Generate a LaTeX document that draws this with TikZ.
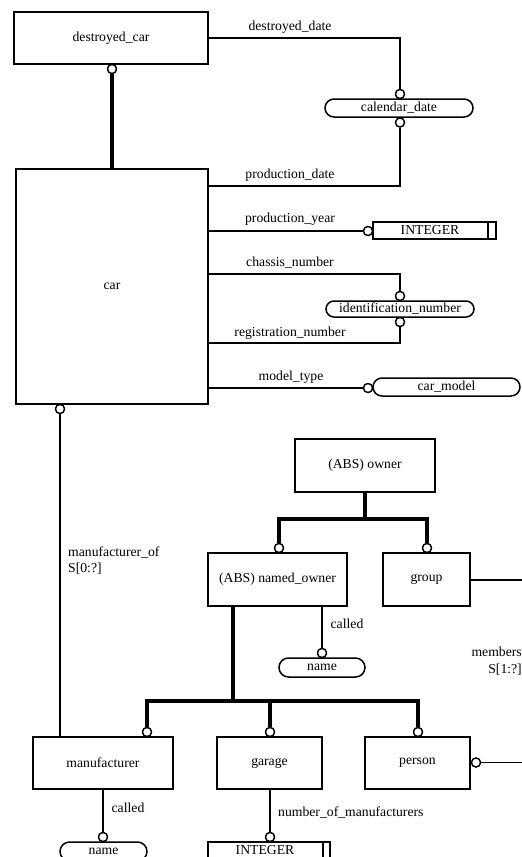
\documentclass[tikz,border=0pt]{standalone}
\usepackage{fontspec}
\setmainfont{Liberation Serif}
\usetikzlibrary{shapes.misc}
\begin{document}
\begin{tikzpicture}[x=1pt,y=-1pt,
  font=\fontsize{13.7}{16.5}\selectfont,
  entity/.style={draw,line width=1.5pt,rectangle,inner sep=0pt},
  deftype/.style={draw,line width=1.5pt,rounded rectangle,inner sep=0pt,minimum height=18pt},
  simple/.style={draw,line width=1.5pt,rectangle,inner sep=0pt,minimum height=17pt},
  circ/.style={draw,circle,fill=white,line width=1.3pt,minimum size=9pt,inner sep=0pt},
  rel/.style={line width=1.3pt},
  sub/.style={line width=4.5pt},
  lbl/.style={inner sep=0pt}]
\useasboundingbox (0,0) rectangle (522,857);

% entities
\node[entity,minimum width=194pt,minimum height=52pt] (dcar) at (111,38) {destroyed\_car};
\node[entity,minimum width=192pt,minimum height=235pt] (car) at (112,286.5) {car};
\node[entity,minimum width=140pt,minimum height=53pt] (owner) at (365,465.5) {(ABS) owner};
\node[entity,minimum width=139pt,minimum height=53pt] (named) at (277.5,579.5) {(ABS) named\_owner};
\node[entity,minimum width=87pt,minimum height=53pt] (group) at (426.5,579.5) {group};
\node[entity,minimum width=140pt,minimum height=52pt] (manuf) at (103,763) {manufacturer};
\node[entity,minimum width=105pt,minimum height=52pt] (garage) at (269.5,763) {garage};
\node[entity,minimum width=105pt,minimum height=52pt] (person) at (417.5,763) {person};

% defined types
\node[deftype,minimum width=148pt] (caldate) at (399,108) {calendar\_date};
\node[deftype,minimum width=148pt,minimum height=16pt] (idnum) at (400,309) {identification\_number};
\node[deftype,minimum width=147pt] (carmodel) at (446.5,387) {car\_model};
\node[deftype,minimum width=86pt,minimum height=19pt] (nameA) at (322,667.5) {name};
\node[deftype,minimum width=87pt,minimum height=19pt] (nameB) at (103.5,851.5) {name};

% simple types
\node[simple,minimum width=123pt] (intA) at (434.5,230.5) {INTEGER\kern9pt};
\draw[line width=1.5pt] ([xshift=-9pt]intA.north east) -- ([xshift=-9pt]intA.south east);
\node[simple,minimum width=122pt] (intB) at (269,850.5) {INTEGER\kern8pt};
\draw[line width=1.5pt] ([xshift=-8pt]intB.north east) -- ([xshift=-8pt]intB.south east);

% relationship end circles
\node[circ] (c1) at (112,69) {};
\node[circ] (c2) at (400,94) {};
\node[circ] (c3) at (400,122.5) {};
\node[circ] (c4) at (368,231) {};
\node[circ] (c5) at (400,296) {};
\node[circ] (c6) at (400,322) {};
\node[circ] (c7) at (368,388) {};
\node[circ] (c8) at (60,409) {};
\node[circ] (c9) at (279,548) {};
\node[circ] (c10) at (427,548) {};
\node[circ] (c11) at (322,653) {};
\node[circ] (c12) at (147,732) {};
\node[circ] (c13) at (270,732) {};
\node[circ] (c14) at (418,732) {};
\node[circ] (c15) at (476,762.5) {};
\node[circ] (c16) at (103,837) {};
\node[circ] (c17) at (270,837) {};

% corner points
\coordinate (pd) at (400,186);
\coordinate (cn) at (400,274);
\coordinate (rn) at (400,343);
\coordinate (ob) at (365,519);
\coordinate (nb) at (233,701);
\coordinate (gr) at (523,580);
\coordinate (pr) at (523,762.5);

% attributes
\draw[rel] (dcar.east) -| (c2.north);
\draw[rel] (car.east |- pd) -- (pd) -- (c3.south);
\draw[rel] (car.east |- c4) -- (c4.west);
\draw[rel] (car.east |- cn) -- (cn) -- (c5.north);
\draw[rel] (car.east |- rn) -- (rn) -- (c6.south);
\draw[rel] (car.east |- c7) -- (c7.west);
\draw[rel] (c8.south) -- (manuf.north -| c8);
\draw[rel] (named.south -| c11) -- (c11.north);
\draw[rel] (group.east |- gr) -- (gr);
\draw[rel] (c15.east) -- (pr);
\draw[rel] (manuf.south -| c16) -- (c16.north);
\draw[rel] (garage.south -| c17) -- (c17.north);

% subtype trees
\draw[sub] (c1.south) -- (car.north -| c1);
\draw[sub] (owner.south) -- (ob);
\draw[sub] (c9.north) |- (ob) -| (c10.north);
\draw[sub] (named.south -| nb) -- (nb);
\draw[sub] (c12.north) |- (nb) -| (c14.north);
\draw[sub] (c13.north) -- (c13 |- nb);

% redraw circles above lines
\foreach \c in {c1,c2,c3,c4,c5,c6,c7,c8,c9,c10,c11,c12,c13,c14,c15,c16,c17}
  \draw[line width=1.3pt,fill=white] (\c) circle (4.5pt);

% labels
\node[lbl] (l1) at (290,27) {destroyed\_date};
\node[lbl] (l2) at (290,175) {production\_date};
\node[lbl] (l3) at (290,219) {production\_year};
\node[lbl] (l4) at (290,263) {chassis\_number};
\node[lbl] (l5) at (290,333) {registration\_number};
\node[lbl] (l6) at (291,377) {model\_type};
\node[lbl,anchor=west,align=left] (l7) at (68,560.5) {manufacturer\_of\\S[0:?]};
\node[lbl] (l8) at (347,624) {called};
\node[lbl,anchor=east,align=right] (l9) at (522,661) {members\\S[1:?]};
\node[lbl] (l10) at (128,808) {called};
\node[lbl,anchor=west] (l11) at (278,813) {number\_of\_manufacturers};
\end{tikzpicture}
\end{document}
